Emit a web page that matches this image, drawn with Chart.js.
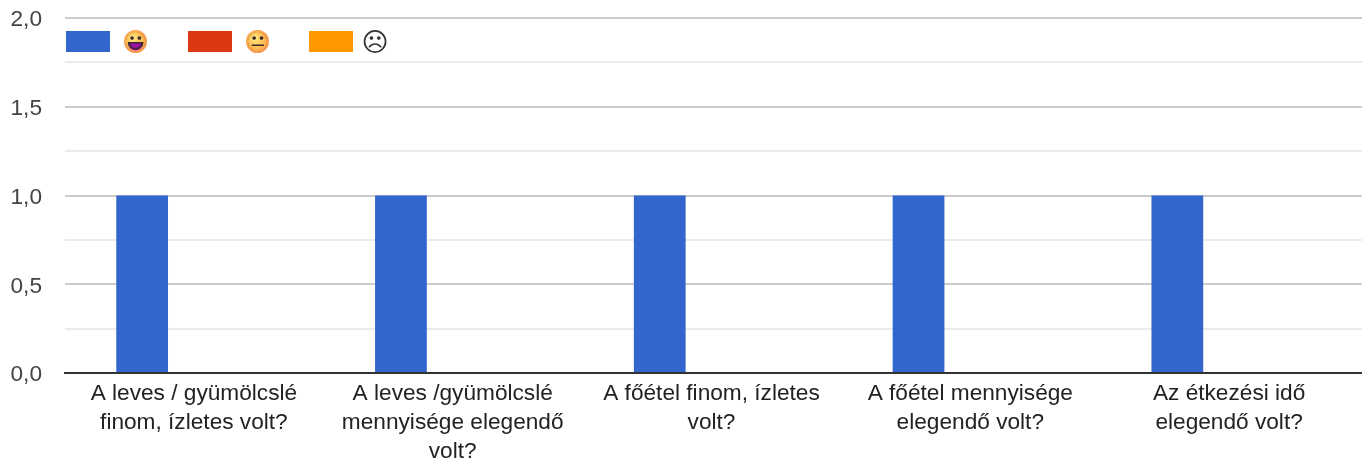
<!DOCTYPE html>
<html><head><meta charset="utf-8">
<style>html,body{margin:0;padding:0;background:#fff}#w{width:1372px;height:463px;position:relative}</style>
<script src="https://cdn.jsdelivr.net/npm/chart.js@4"></script>
</head><body><div id="w"><canvas id="c"></canvas></div>
<script>
const categories = [
  ["A leves / gyümölcslé","finom, ízletes volt?"],
  ["A leves /gyümölcslé","mennyisége elegendő","volt?"],
  ["A főétel finom, ízletes","volt?"],
  ["A főétel mennyisége","elegendő volt?"],
  ["Az étkezési idő","elegendő volt?"]
];
const seriesNames = ["😃","😐","☹"];
const good = [1,1,1,1,1];
const neutral = [0,0,0,0,0];
const bad = [0,0,0,0,0];
const seriesColors = ["#3366cc","#dc3912","#ff9900"];
const FONT = "'Liberation Sans', Arial, sans-serif";
const legendLayout = [
  {x:66,face:135.5,disc:true,mouth:true,glyph:'#3a2a30'},
  {x:188,face:257.5,disc:true,mouth:false,glyph:'#3a2a30'},
  {x:309,face:375,disc:false,mouth:false,glyph:'#333'}
];
const topLegend = {
  id:'topLegend',
  afterDraw(chart){
    const g = chart.ctx;
    chart.data.datasets.forEach((d,i)=>{
      const L = legendLayout[i];
      g.save();
      g.fillStyle = d.backgroundColor;
      g.fillRect(L.x,31,44,21);
      if(L.disc){
        const r = g.createRadialGradient(L.face-3,38,2,L.face,41.5,12);
        r.addColorStop(0,'#ffe27a');r.addColorStop(.65,'#fdb94e');r.addColorStop(1,'#f78d4e');
        g.fillStyle=r;g.beginPath();g.arc(L.face,41.5,11.5,0,Math.PI*2);g.fill();
        if(L.mouth){
          g.fillStyle='#a010a8';g.beginPath();g.arc(L.face,43,7.5,0,Math.PI);g.closePath();g.fill();
        }
        g.beginPath();g.arc(L.face,41.5,9.5,0,Math.PI*2);g.clip();
      }
      g.fillStyle=L.glyph;
      g.font="26px 'DejaVu Sans'";
      g.textAlign='center';g.textBaseline='middle';
      g.fillText(d.label,L.face,44);
      g.restore();
    });
  }
};
const gridTail = {
  id:'gridTail',
  beforeDatasetsDraw(chart){
    const g=chart.ctx,y=chart.scales.y,a=chart.chartArea;
    y.ticks.forEach(t=>{
      if(t.value===0) return;
      const p=Math.round(y.getPixelForValue(t.value));
      g.save();
      g.strokeStyle=Math.round(t.value*100)%50===0?'#cccccc':'#ebebeb';
      g.lineWidth=2;g.beginPath();g.moveTo(a.right-1,p);g.lineTo(1362,p);g.stroke();
      g.restore();
    });
    g.save();g.strokeStyle='#333';g.lineWidth=2;g.beginPath();
    g.moveTo(a.right-1,373);g.lineTo(1362,373);g.stroke();g.restore();
  }
};
new Chart(document.getElementById('c'),{
  type:'bar',
  data:{labels:categories,datasets:[
    {label:seriesNames[0],data:good,backgroundColor:seriesColors[0]},
    {label:seriesNames[1],data:neutral,backgroundColor:seriesColors[1]},
    {label:seriesNames[2],data:bad,backgroundColor:seriesColors[2]}
  ]},
  plugins:[gridTail,topLegend],
  options:{
    responsive:true,maintainAspectRatio:false,animation:false,
    devicePixelRatio:1,
    layout:{padding:{top:18,right:13.5,left:0,bottom:0}},
    datasets:{bar:{categoryPercentage:0.6,barPercentage:1}},
    plugins:{tooltip:{enabled:false},legend:{display:false}},
    scales:{
      x:{
        grid:{display:false},
        border:{color:'#333',width:2},
        afterFit(s){s.height=90;s.paddingLeft=0;s.paddingRight=0},
        ticks:{color:'#222',maxRotation:0,autoSkip:false,padding:-2,
          font:{size:22.67,family:FONT,lineHeight:1.28}}
      },
      y:{
        min:0,max:2,
        afterFit(s){s.width=64.5;s.paddingTop=0;s.paddingBottom=0},
        border:{display:false},
        grid:{
          drawTicks:false,
          lineWidth:2,
          color(ctx){return ctx.tick.value===0?'rgba(0,0,0,0)':(Math.round(ctx.tick.value*100)%50===0?'#cccccc':'#ebebeb')}
        },
        ticks:{stepSize:0.25,color:'#444',padding:22.5,autoSkip:false,labelOffset:2,
          font:{size:22.67,family:FONT},
          callback(v){return Math.round(v*100)%50===0?v.toFixed(1).replace('.',','):''}}
      }
    }
  }
});
</script></body></html>
